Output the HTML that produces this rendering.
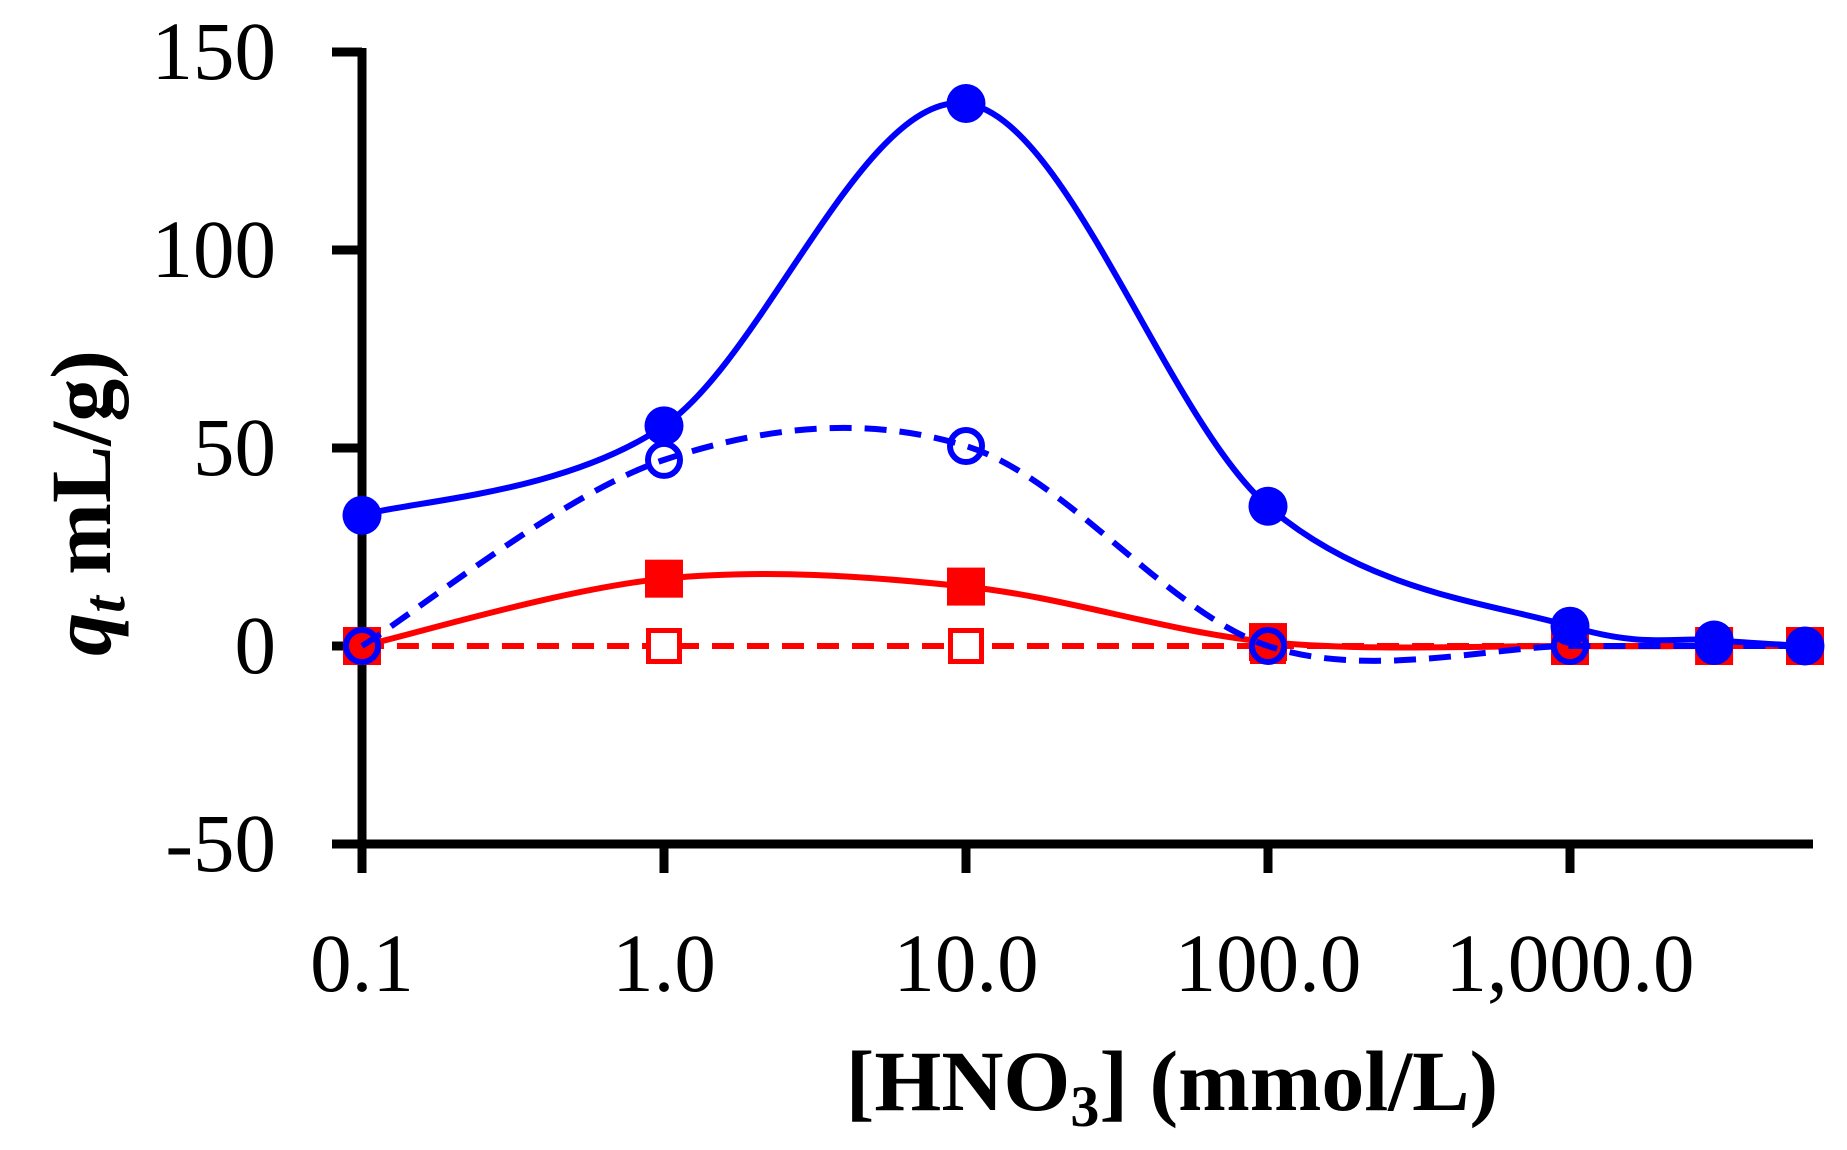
<!DOCTYPE html>
<html><head><meta charset="utf-8"><style>
html,body{margin:0;padding:0;background:#fff}
svg{display:block}
text{font-family:"Liberation Serif",serif;fill:#000}
</style></head><body>
<svg id="chart" width="1847" height="1150" viewBox="0 0 1847 1150" xmlns="http://www.w3.org/2000/svg">
<g id="axes"></g>
<g id="series"></g>
<text x="1172" y="1110" text-anchor="middle" font-size="86" font-weight="bold">[HNO<tspan font-size="58" dy="16">3</tspan><tspan dy="-16">] (mmol/L)</tspan></text>
<text transform="translate(110,503) rotate(-90)" text-anchor="middle" font-size="86" font-weight="bold"><tspan font-style="italic">q</tspan><tspan font-style="italic" font-size="60" dy="14">t</tspan><tspan dy="-14"> mL/g)</tspan></text>
</svg>
<script>
const xValues = [0.1, 1, 10, 100, 1000, 3000, 6000];
const solidBlue = [33, 55.6, 137, 35.3, 5, 1.5, 0];
const dashedBlue = [0, 47, 50.5, 0, 0, 0, 0];
const solidRed = [0, 17, 15, 1, 0, 0, 0];
const dashedRed = [0, 0, 0, 0, 0, 0, 0];
const yTicks = [150, 100, 50, 0, -50];
const yTickLabels = ["150", "100", "50", "0", "-50"];
const xTicks = [0.1, 1, 10, 100, 1000];
const xTickLabels = ["0.1", "1.0", "10.0", "100.0", "1,000.0"];

const NS = "http://www.w3.org/2000/svg";
function xs(v){ return 362 + (Math.log10(v) + 1) * 302; }
function ys(v){ return 646 - v * 198 / 50; }
function mk(tag, attrs, parent){
  const e = document.createElementNS(NS, tag);
  for (const k in attrs) e.setAttribute(k, attrs[k]);
  parent.appendChild(e);
  return e;
}
const axes = document.getElementById('axes');
const ser = document.getElementById('series');

let l = mk('line', {x1:362, y1:ys(150)-4, x2:362, y2:873, stroke:'#000','stroke-width':9}, axes);


l = mk('line', {x1:332, y1:ys(-50), x2:1813, y2:ys(-50), stroke:'#000','stroke-width':9}, axes);



yTicks.forEach((t, i) => {
  const tk = mk('line', {x1:332, y1:ys(t), x2:362, y2:ys(t), stroke:'#000','stroke-width':9}, axes);
  
  
  const tx = mk('text', {x:276, y:ys(t)+27, 'text-anchor':'end', 'font-size':83}, axes);
  
  
  tx.textContent = yTickLabels[i];
});
xTicks.forEach((t, i) => {
  const tk = mk('line', {x1:xs(t), y1:ys(-50), x2:xs(t), y2:873, stroke:'#000','stroke-width':9}, axes);
  
  
  const tx = mk('text', {x:xs(t), y:991, 'text-anchor':'middle', 'font-size':83}, axes);
  
  
  tx.textContent = xTickLabels[i];
});

function smoothPath(vals){
  const p = xValues.map((x, i) => [xs(x), ys(vals[i])]);
  let d = 'M' + p[0][0] + ',' + p[0][1];
  for (let i = 0; i < p.length - 1; i++){
    const p0 = p[i-1] || p[i], p1 = p[i], p2 = p[i+1], p3 = p[i+2] || p[i+1];
    const c1 = [p1[0] + (p2[0]-p0[0])/6, p1[1] + (p2[1]-p0[1])/6];
    const c2 = [p2[0] - (p3[0]-p1[0])/6, p2[1] - (p3[1]-p1[1])/6];
    d += ' C' + c1.join(',') + ' ' + c2.join(',') + ' ' + p2.join(',');
  }
  return d;
}
function drawLine(vals, color, dashed, name){
  const a = {d:smoothPath(vals), fill:'none', stroke:color, 'stroke-width':6};
  if (dashed) a['stroke-dasharray'] = '22 13';
  const e = mk('path', a, ser);
  
  
}
function drawMarkers(vals, type, color, name){
  vals.forEach((v, i) => {
    const x = xs(xValues[i]), y = ys(v);
    let e;
    if (type === 'fsq') e = mk('rect', {x:x-19, y:y-19, width:38, height:38, fill:color}, ser);
    else if (type === 'osq') e = mk('rect', {x:x-15.5, y:y-15.5, width:31, height:31, fill:'#fff', stroke:color, 'stroke-width':5}, ser);
    else if (type === 'fc') e = mk('circle', {cx:x, cy:y, r:19.5, fill:color}, ser);
    else e = mk('circle', {cx:x, cy:y, r:16, fill:'none', stroke:color, 'stroke-width':6}, ser);
    
    
  });
}
drawLine(dashedRed, '#ff0000', true, 'dashed-red-line');
drawMarkers(dashedRed, 'osq', '#ff0000', 'open-square-marker');
drawLine(solidRed, '#ff0000', false, 'solid-red-line');
drawMarkers(solidRed, 'fsq', '#ff0000', 'filled-square-marker');
drawLine(dashedBlue, '#0000ff', true, 'dashed-blue-line');
drawMarkers(dashedBlue, 'oc', '#0000ff', 'open-circle-marker');
drawLine(solidBlue, '#0000ff', false, 'solid-blue-line');
drawMarkers(solidBlue, 'fc', '#0000ff', 'filled-circle-marker');
</script>
</body></html>
